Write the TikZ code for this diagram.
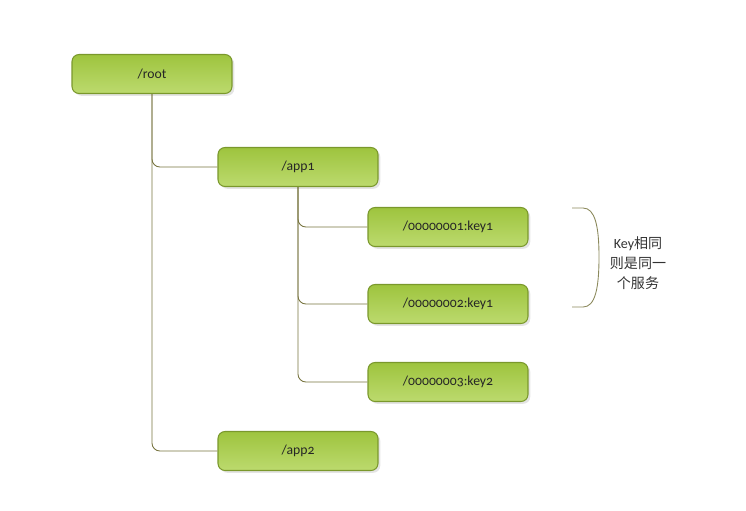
\documentclass[tikz,border=0pt]{standalone}
\usepackage{fontspec}
\setmainfont{Carlito}[Numbers=OldStyle]
\newfontfamily\cjk{Noto Sans CJK SC}
\usepackage{tikz}
\usetikzlibrary{shadows}
\definecolor{boxtop}{HTML}{9EC43E}
\definecolor{boxbot}{HTML}{BCDA6E}
\definecolor{boxline}{HTML}{7A982C}
\definecolor{linkline}{HTML}{77743F}

\begin{document}
\begin{tikzpicture}[x=0.02cm,y=-0.02cm,line join=round,
  keybox/.style={rectangle,rounded corners=4pt,draw=boxline,line width=0.6pt,
    top color=boxtop,bottom color=boxbot,minimum width=3.2cm,minimum height=0.78cm,
    inner sep=0pt,font=\fontsize{7.8}{9}\selectfont,text=black!85,
    drop shadow={shadow xshift=1.3pt,shadow yshift=-1.3pt,opacity=0.3,fill=black!35}},
  link/.style={draw=linkline,line width=0.5pt,rounded corners=4.5pt}]
  \useasboundingbox (0,0) rectangle (746,510);
  \node[keybox] (root) at (152,74) {/root};
  \node[keybox] (app1) at (298,167) {/app1};
  \node[keybox] (key1) at (448,227) {/00000001:key1};
  \node[keybox] (key2) at (448,304) {/00000002:key1};
  \node[keybox] (key3) at (448,382) {/00000003:key2};
  \node[keybox] (app2) at (298,451) {/app2};
  \draw[link] (root.south) |- (app1.west);
  \draw[link] (root.south) |- (app2.west);
  \draw[link] (app1.south) |- (key1.west);
  \draw[link] (app1.south) |- (key2.west);
  \draw[link] (app1.south) |- (key3.west);
  \coordinate (bt) at (572,208);
  \coordinate (bb) at (572,307);
  \draw[linkline!85,line width=0.5pt] (bt) -- (583,208)
    .. controls (595,208) and (599,226) .. (599,257)
    .. controls (599,289) and (595,307) .. (583,307) -- (bb);
  \node[align=center,font=\fontsize{8}{11.3}\selectfont,text=black!80] (note) at (638,263)
    {Key{\cjk 相同}\\{\cjk 则是同一}\\{\cjk 个服务}};
\end{tikzpicture}
\end{document}
